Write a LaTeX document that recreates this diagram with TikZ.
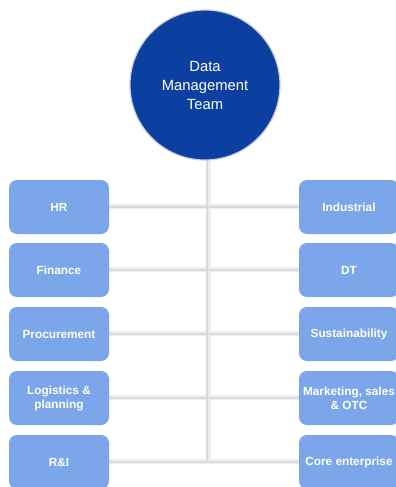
\documentclass[tikz,border=0pt]{standalone}
\usepackage{fontspec}
\setmainfont{Liberation Sans}
\usetikzlibrary{backgrounds}
\definecolor{dmtblue}{RGB}{12,64,160}
\definecolor{boxblue}{RGB}{123,167,234}
\definecolor{linegray}{RGB}{218,218,218}
\definecolor{shadegray}{RGB}{238,238,238}
\begin{document}
\begin{tikzpicture}[x=1pt,y=-1pt,
  unit/.style={fill=boxblue, rounded corners=8pt, minimum width=100pt, minimum height=54pt,
    inner sep=0pt, text=white, font=\fontsize{11.8}{14}\selectfont\bfseries, align=center},
  hub/.style={circle, fill=dmtblue, draw={rgb,255:red,200;green,205;blue,215}, line width=1.2pt,
    minimum size=150pt, inner sep=0pt, text=white, font=\fontsize{14.8}{19}\selectfont, align=center},
  link/.style={draw=linegray, line width=2pt},
  linkshade/.style={draw=shadegray, line width=5pt}]
\clip (0,0) rectangle (396,487);
% nodes
\node[hub] (dmt) at (205,85) {Data\\Management\\Team};
\node[unit] (hr)   at (59,207) {HR};
\node[unit] (fin)  at (59,270) {Finance};
\node[unit] (proc) at (59,334) {Procurement};
\node[unit] (log)  at (59,398) {Logistics \&\\planning};
\node[unit] (ri)   at (59,462) {R\&I};
\node[unit] (ind)  at (349,207) {Industrial};
\node[unit] (dt)   at (349,270) {DT};
\node[unit] (sus)  at (349,334) {Sustainability};
\node[unit] (mkt)  at (349,398) {Marketing, sales\\\& OTC};
\node[unit] (core) at (349,462) {Core enterprise};
\coordinate (vend) at (207,462);
\coordinate (vtop) at (207,160);
% connectors behind the nodes
\begin{scope}[on background layer]
\fill[white] (0,0) rectangle (396,487);
\foreach \a/\b in {hr/ind,fin/dt,proc/sus,log/mkt,ri/core}{
  \draw[linkshade] ([yshift=1pt]\a.east) -- ([yshift=1pt]\b.west);
}
\draw[linkshade] ([xshift=1pt]vtop) -- ([xshift=1pt]vend);
\foreach \a/\b in {hr/ind,fin/dt,proc/sus,log/mkt,ri/core}{
  \draw[link] (\a.east) -- (\b.west);
}
\draw[link] (vtop) -- (vend);
\end{scope}
\end{tikzpicture}
\end{document}
